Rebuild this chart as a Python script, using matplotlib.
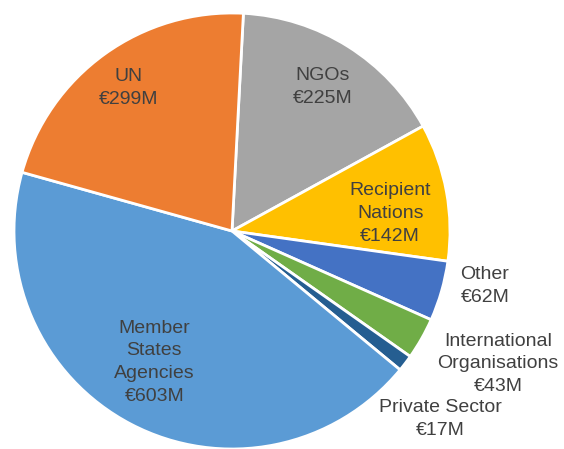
import numpy as np
import matplotlib
matplotlib.use("Agg")
import matplotlib.pyplot as plt

# slices in clockwise order, starting at the top
categories = ["NGOs", "Recipient\nNations", "Other", "International\nOrganisations",
              "Private Sector", "Member\nStates\nAgencies", "UN"]
values = [225, 142, 62, 43, 17, 603, 299]
colors = ["#A5A5A5", "#FFC000", "#4472C4", "#70AD47", "#255E91", "#5B9BD5", "#ED7D31"]

W, H = 564, 449
fig = plt.figure(figsize=(W / 100, H / 100), dpi=100)
ax = fig.add_axes([0, 0, 1, 1])

cx, cy, r = 232, H - 231, 218
wedges, _ = ax.pie(values, colors=colors, startangle=87, counterclock=False,
                   center=(cx, cy), radius=r, frame=True,
                   wedgeprops=dict(edgecolor="white", linewidth=2))
ax.set_xlim(0, W)
ax.set_ylim(0, H)
ax.set_aspect("equal")
ax.axis("off")

# inside labels: (fraction of radius, angle shift); outside labels: fixed pixel spot
inside = {0: (0.78, 0), 1: (0.73, -4), 5: (0.70, -3), 6: (0.81, 0)}
outside = {2: (485, 286), 3: (498, 364), 4: (440, 419)}

txt = dict(color="#404040", fontsize=14, family="Liberation Sans",
           ha="center", va="center", linespacing=1.45)
for i, (w, name, v) in enumerate(zip(wedges, categories, values)):
    label = f"{name}\n€{v}M"
    if i in inside:
        f, shift = inside[i]
        mid = np.deg2rad((w.theta1 + w.theta2) / 2 + shift)
        ax.text(cx + f * r * np.cos(mid), cy + f * r * np.sin(mid), label, **txt)
    else:
        px, py = outside[i]
        ax.text(px, H - py, label, **txt)

plt.savefig("out.png", dpi=100)
